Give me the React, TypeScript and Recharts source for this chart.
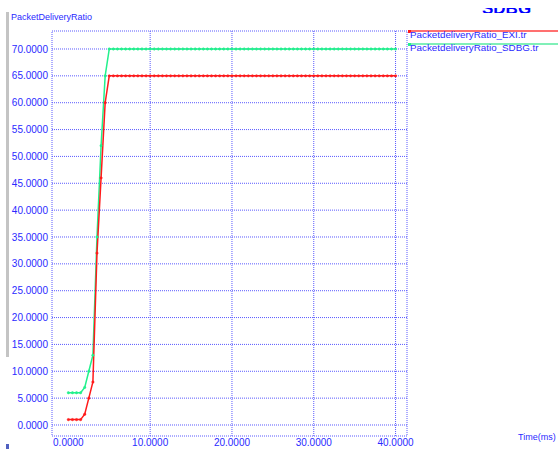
import React from 'react';
import {
  CartesianGrid,
  LineChart,
  Line,
  ReferenceArea,
  XAxis,
  YAxis,
} from 'recharts';

// time (ms), sampled every 0.5
const TIME = [
  0, 0.5, 1, 1.5, 2, 2.5, 3, 3.5, 4, 4.5, 5, 5.5, 6, 6.5, 7, 7.5, 8, 8.5, 9,
  9.5, 10, 10.5, 11, 11.5, 12, 12.5, 13, 13.5, 14, 14.5, 15, 15.5, 16, 16.5,
  17, 17.5, 18, 18.5, 19, 19.5, 20, 20.5, 21, 21.5, 22, 22.5, 23, 23.5, 24,
  24.5, 25, 25.5, 26, 26.5, 27, 27.5, 28, 28.5, 29, 29.5, 30, 30.5, 31, 31.5,
  32, 32.5, 33, 33.5, 34, 34.5, 35, 35.5, 36, 36.5, 37, 37.5, 38, 38.5, 39,
  39.5, 40,
];

const EXI = [
  1, 1, 1, 1, 2, 5, 8, 32, 46, 60, 65, 65, 65, 65, 65, 65, 65, 65, 65, 65, 65,
  65, 65, 65, 65, 65, 65, 65, 65, 65, 65, 65, 65, 65, 65, 65, 65, 65, 65, 65,
  65, 65, 65, 65, 65, 65, 65, 65, 65, 65, 65, 65, 65, 65, 65, 65, 65, 65, 65,
  65, 65, 65, 65, 65, 65, 65, 65, 65, 65, 65, 65, 65, 65, 65, 65, 65, 65, 65,
  65, 65, 65,
];

const SDBG = [
  6, 6, 6, 6, 7, 10, 13, 35, 52, 65, 70, 70, 70, 70, 70, 70, 70, 70, 70, 70,
  70, 70, 70, 70, 70, 70, 70, 70, 70, 70, 70, 70, 70, 70, 70, 70, 70, 70, 70,
  70, 70, 70, 70, 70, 70, 70, 70, 70, 70, 70, 70, 70, 70, 70, 70, 70, 70, 70,
  70, 70, 70, 70, 70, 70, 70, 70, 70, 70, 70, 70, 70, 70, 70, 70, 70, 70, 70,
  70, 70, 70, 70,
];

const X_TICKS = [0, 10, 20, 30, 40];
const Y_TICKS = [0, 5, 10, 15, 20, 25, 30, 35, 40, 45, 50, 55, 60, 65, 70];

const X_MIN = -2;
const X_MAX = 41.4;
const Y_MIN = -2.05;
const Y_MAX = 73.35;

const BLUE = '#2a2aff';
const GRID = '#5a5aff';
const RED = '#ff1a1a';
const GREEN = '#22f08c';
const FONT = '"Liberation Sans", Arial, sans-serif';

const App: React.FC = () => {
  const data = TIME.map((t, i) => ({ t, exi: EXI[i], sdbg: SDBG[i] }));

  return (
    <div
      style={{
        position: 'fixed',
        top: 0,
        left: 0,
        width: 558,
        height: 449,
        background: '#fff',
        overflow: 'hidden',
        fontFamily: FONT,
      }}
    >
      <div
        style={{
          position: 'absolute',
          left: 6,
          top: 12,
          width: 3,
          height: 345,
          background: '#c4c4c4',
        }}
      />
      <div
        style={{
          position: 'absolute',
          left: 6,
          top: 444,
          width: 3,
          height: 5,
          background: '#5060c0',
        }}
      />
      <div
        style={{
          position: 'absolute',
          left: 11,
          top: 12,
          fontSize: 9,
          color: BLUE,
        }}
      >
        PacketDeliveryRatio
      </div>
      {/* big caption, mostly scrolled out of view in the original */}
      <div
        style={{
          position: 'absolute',
          left: 482,
          top: 8,
          width: 60,
          height: 5,
          overflow: 'hidden',
        }}
      >
        <div
          style={{
            position: 'absolute',
            left: 0,
            bottom: -4,
            fontSize: 17,
            lineHeight: '17px',
            fontWeight: 'bold',
            color: '#0000ff',
          }}
        >
          SDBG
        </div>
      </div>
      <div
        style={{
          position: 'absolute',
          left: 518,
          top: 432,
          fontSize: 9,
          color: BLUE,
        }}
      >
        Time(ms)
      </div>

      {/* legend */}
      <div
        style={{
          position: 'absolute',
          left: 408,
          top: 30,
          width: 150,
          height: 2,
          background: '#ff7070',
        }}
      />
      <div
        style={{
          position: 'absolute',
          left: 408,
          top: 30,
          width: 3,
          height: 3,
          background: RED,
        }}
      />
      <div
        style={{
          position: 'absolute',
          left: 410,
          top: 29,
          fontSize: 9.8,
          color: BLUE,
        }}
      >
        PacketdeliveryRatio_EXI.tr
      </div>
      <div
        style={{
          position: 'absolute',
          left: 408,
          top: 43,
          width: 150,
          height: 2,
          background: '#80f0b8',
        }}
      />
      <div
        style={{
          position: 'absolute',
          left: 408,
          top: 43,
          width: 3,
          height: 3,
          background: GREEN,
        }}
      />
      <div
        style={{
          position: 'absolute',
          left: 410,
          top: 42,
          fontSize: 9.8,
          color: BLUE,
        }}
      >
        PacketdeliveryRatio_SDBG.tr
      </div>

      <div style={{ position: 'absolute', left: 0, top: 0 }}>
        <LineChart
          width={558}
          height={449}
          data={data}
          margin={{ top: 31, right: 151, bottom: 0, left: 0 }}
        >
          <CartesianGrid
            stroke={GRID}
            strokeDasharray='1 1'
            verticalValues={[10, 20, 30, 40]}
            horizontalValues={Y_TICKS}
          />
          <ReferenceArea
            x1={X_MIN}
            x2={X_MAX}
            y1={Y_MIN}
            y2={Y_MAX}
            fill='none'
            fillOpacity={0}
            stroke={GRID}
            strokeDasharray='1 1'
            ifOverflow='visible'
          />
          <XAxis
            dataKey='t'
            type='number'
            domain={[X_MIN, X_MAX]}
            ticks={X_TICKS}
            allowDataOverflow
            height={13}
            axisLine={false}
            tickLine={false}
            tickSize={0}
            tickMargin={3}
            tickFormatter={(v: number) => v.toFixed(4)}
            tick={{ fontSize: 10, fill: BLUE, fontFamily: FONT }}
            interval={0}
          />
          <YAxis
            type='number'
            domain={[Y_MIN, Y_MAX]}
            ticks={Y_TICKS}
            allowDataOverflow
            width={52}
            axisLine={false}
            tickLine={false}
            tickSize={0}
            tickMargin={4}
            tickFormatter={(v: number) => v.toFixed(4)}
            tick={{ fontSize: 10, fill: BLUE, fontFamily: FONT }}
            interval={0}
          />
          <Line
            type='linear'
            dataKey='sdbg'
            stroke={GREEN}
            strokeWidth={1.5}
            dot={{ r: 1.2, fill: GREEN, stroke: GREEN, strokeWidth: 0.5 }}
            isAnimationActive={false}
          />
          <Line
            type='linear'
            dataKey='exi'
            stroke={RED}
            strokeWidth={1.5}
            dot={{ r: 1.2, fill: RED, stroke: RED, strokeWidth: 0.5 }}
            isAnimationActive={false}
          />
        </LineChart>
      </div>
    </div>
  );
};

export default App;
